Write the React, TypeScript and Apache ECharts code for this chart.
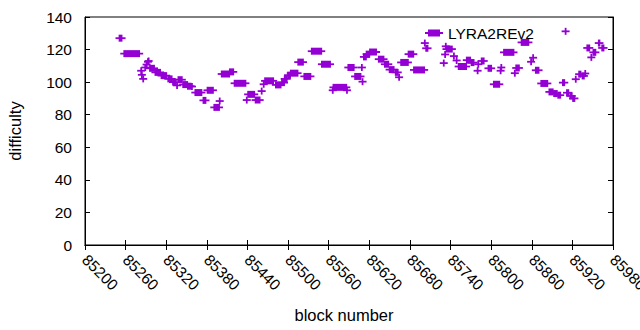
import React, { useEffect, useRef } from "react";
import * as echarts from "echarts";

// Runs of consecutive blocks that share one difficulty value
const blockFrom = [
  85251, 85258, 85283, 85284, 85286, 85289, 85291, 85293, 85294, 85296,
  85304, 85313, 85323, 85330, 85336, 85338, 85345, 85352, 85358, 85363,
  85375, 85381, 85391, 85399, 85402, 85414, 85421, 85439, 85441, 85452,
  85461, 85464, 85466, 85482, 85491, 85495, 85500, 85504, 85515, 85524,
  85535, 85550, 85566, 85567, 85587, 85589, 85599, 85609, 85610, 85612,
  85616, 85621, 85634, 85643, 85650, 85659, 85664, 85667, 85678, 85686,
  85702, 85704, 85730, 85732, 85733, 85734, 85745, 85749, 85752, 85764,
  85771, 85780, 85781, 85786, 85796, 85804, 85814, 85815, 85819, 85835,
  85837, 85845, 85859, 85862, 85866, 85874, 85886, 85893, 85899, 85906,
  85910, 85912, 85917, 85921, 85925, 85930, 85935, 85939, 85942, 85948,
  85951, 85959, 85964,
];
const blockTo = [
  85254, 85280, 85283, 85284, 85286, 85289, 85291, 85293, 85294, 85302,
  85311, 85320, 85328, 85334, 85336, 85343, 85351, 85356, 85358, 85372,
  85378, 85389, 85398, 85399, 85413, 85419, 85437, 85439, 85450, 85458,
  85461, 85464, 85478, 85489, 85494, 85498, 85503, 85514, 85522, 85533,
  85549, 85562, 85566, 85586, 85587, 85597, 85607, 85609, 85610, 85615,
  85620, 85630, 85641, 85648, 85656, 85662, 85664, 85677, 85685, 85701,
  85702, 85706, 85730, 85732, 85733, 85742, 85745, 85749, 85763, 85769,
  85774, 85780, 85781, 85789, 85800, 85812, 85814, 85815, 85833, 85835,
  85841, 85855, 85859, 85862, 85870, 85883, 85891, 85897, 85902, 85908,
  85910, 85914, 85919, 85923, 85925, 85932, 85937, 85939, 85945, 85948,
  85954, 85960, 85966,
];
const difficulty = [
  127, 117.5, 107, 104.5, 102, 109, 110.8, 112.5, 113, 108.5,
  106, 104, 102, 100, 98, 101.5, 98.5, 97.5, 97.3, 93.6,
  88.8, 95, 84.5, 88.4, 105, 106.3, 99.3, 89, 92.5, 89,
  94.5, 98.7, 100.8, 98.3, 99.7, 102, 104.3, 105.5, 112.3, 103.5,
  119, 111, 95, 96.8, 95, 109, 103.5, 109, 100.3, 115.5,
  117.2, 118.5, 114.1, 111, 107.7, 106, 103, 112.1, 117.2, 107.5,
  124, 120.8, 111.7, 117, 122, 120.3, 116, 113.3, 109.6, 113.5,
  112, 107, 111, 113, 108.5, 98.7, 107, 109, 118.3, 105.5,
  108.7, 124.4, 112.5, 115, 107.3, 99.2, 94, 93, 92, 99.7,
  131.2, 93.5, 91.5, 90, 101.8, 104.9, 103.8, 105.3, 121, 115.2,
  118.3, 124, 121,
];

const xTicks = { min: 85200, max: 85980, interval: 60 };
const yTicks = { min: 0, max: 140, interval: 20 };
const seriesName = "LYRA2REv2";
const xTitle = "block number";
const yTitle = "difficulty";

const COLOR = "#9400D3";
const FONT = "Liberation Sans";

export default function App() {
  const ref = useRef<HTMLDivElement>(null);
  useEffect(() => {
    if (!ref.current) return;
    const chart = echarts.init(ref.current, null, { renderer: "svg" });
    const data = blockFrom.map((b, i) => [b, blockTo[i], difficulty[i]]);
    const tickStyle = { inside: true, length: 5, lineStyle: { color: "#000", width: 1 } };
    const lineStyle = { show: true, lineStyle: { color: "#000", width: 1 } };
    const plain = (v: number) => String(v);
    const option: any = {
      animation: false,
      grid: {
        left: 85, right: 27, top: 17, bottom: 85,
        outerBoundsMode: "none",
        containLabel: false,
        show: true, borderColor: "#000", borderWidth: 1, backgroundColor: "transparent",
      },
      legend: {
        show: true,
        left: 425,
        top: 25,
        padding: 0,
        itemWidth: 18,
        itemHeight: 7,
        itemGap: 0,
        icon: "path://M0,2.5H3V0H15V2.5H18V4.5H15V7H3V4.5H0Z",
        textStyle: { fontFamily: FONT, fontSize: 15.5, color: "#000" },
        data: [seriesName],
      },
      xAxis: [
        {
          type: "value", position: "bottom", ...xTicks,
          name: xTitle, nameLocation: "middle", nameGap: 61,
          nameTextStyle: { fontFamily: FONT, fontSize: 16.5, color: "#000", padding: [0, 10, 0, 0] },
          axisLine: lineStyle, axisTick: tickStyle, splitLine: { show: false },
          axisLabel: { rotate: -45, margin: 12, fontFamily: FONT, fontSize: 15.5, color: "#000", formatter: plain, hideOverlap: false, showMaxLabel: true, showMinLabel: true },
        },
        {
          type: "value", position: "top", ...xTicks,
          axisLine: lineStyle, axisTick: tickStyle, splitLine: { show: false },
          axisLabel: { show: false },
        },
      ],
      yAxis: [
        {
          type: "value", position: "left", ...yTicks,
          name: yTitle, nameLocation: "middle", nameGap: 62,
          nameTextStyle: { fontFamily: FONT, fontSize: 16.5, color: "#000" },
          axisLine: lineStyle, axisTick: tickStyle, splitLine: { show: false },
          axisLabel: { margin: 13, fontFamily: FONT, fontSize: 15.5, color: "#000", formatter: plain },
        },
        {
          type: "value", position: "right", ...yTicks,
          axisLine: lineStyle, axisTick: tickStyle, splitLine: { show: false },
          axisLabel: { show: false },
        },
      ],
      series: [
        {
          type: "custom",
          name: seriesName,
          xAxisIndex: 0,
          yAxisIndex: 0,
          itemStyle: { color: COLOR },
          encode: { x: [0, 1], y: 2 },
          data,
          renderItem: (params: any, api: any) => {
            const s = api.coord([api.value(0), api.value(2)]);
            const e = api.coord([api.value(1), api.value(2)]);
            const x0 = s[0];
            const x1 = e[0];
            const y = s[1];
            return {
              type: "group",
              children: [
                { type: "rect", shape: { x: x0 - 4, y: y - 0.9, width: x1 - x0 + 8, height: 1.8 }, style: { fill: COLOR } },
                { type: "rect", shape: { x: x0 - 0.9, y: y - 3.5, width: x1 - x0 + 1.8, height: 7 }, style: { fill: COLOR } },
              ],
            };
          },
        },
      ],
    };
    chart.setOption(option);
    return () => chart.dispose();
  }, []);
  return (
    <div
      ref={ref}
      style={{ position: "absolute", left: 0, top: 0, width: 640, height: 330, background: "#fff" }}
    />
  );
}
